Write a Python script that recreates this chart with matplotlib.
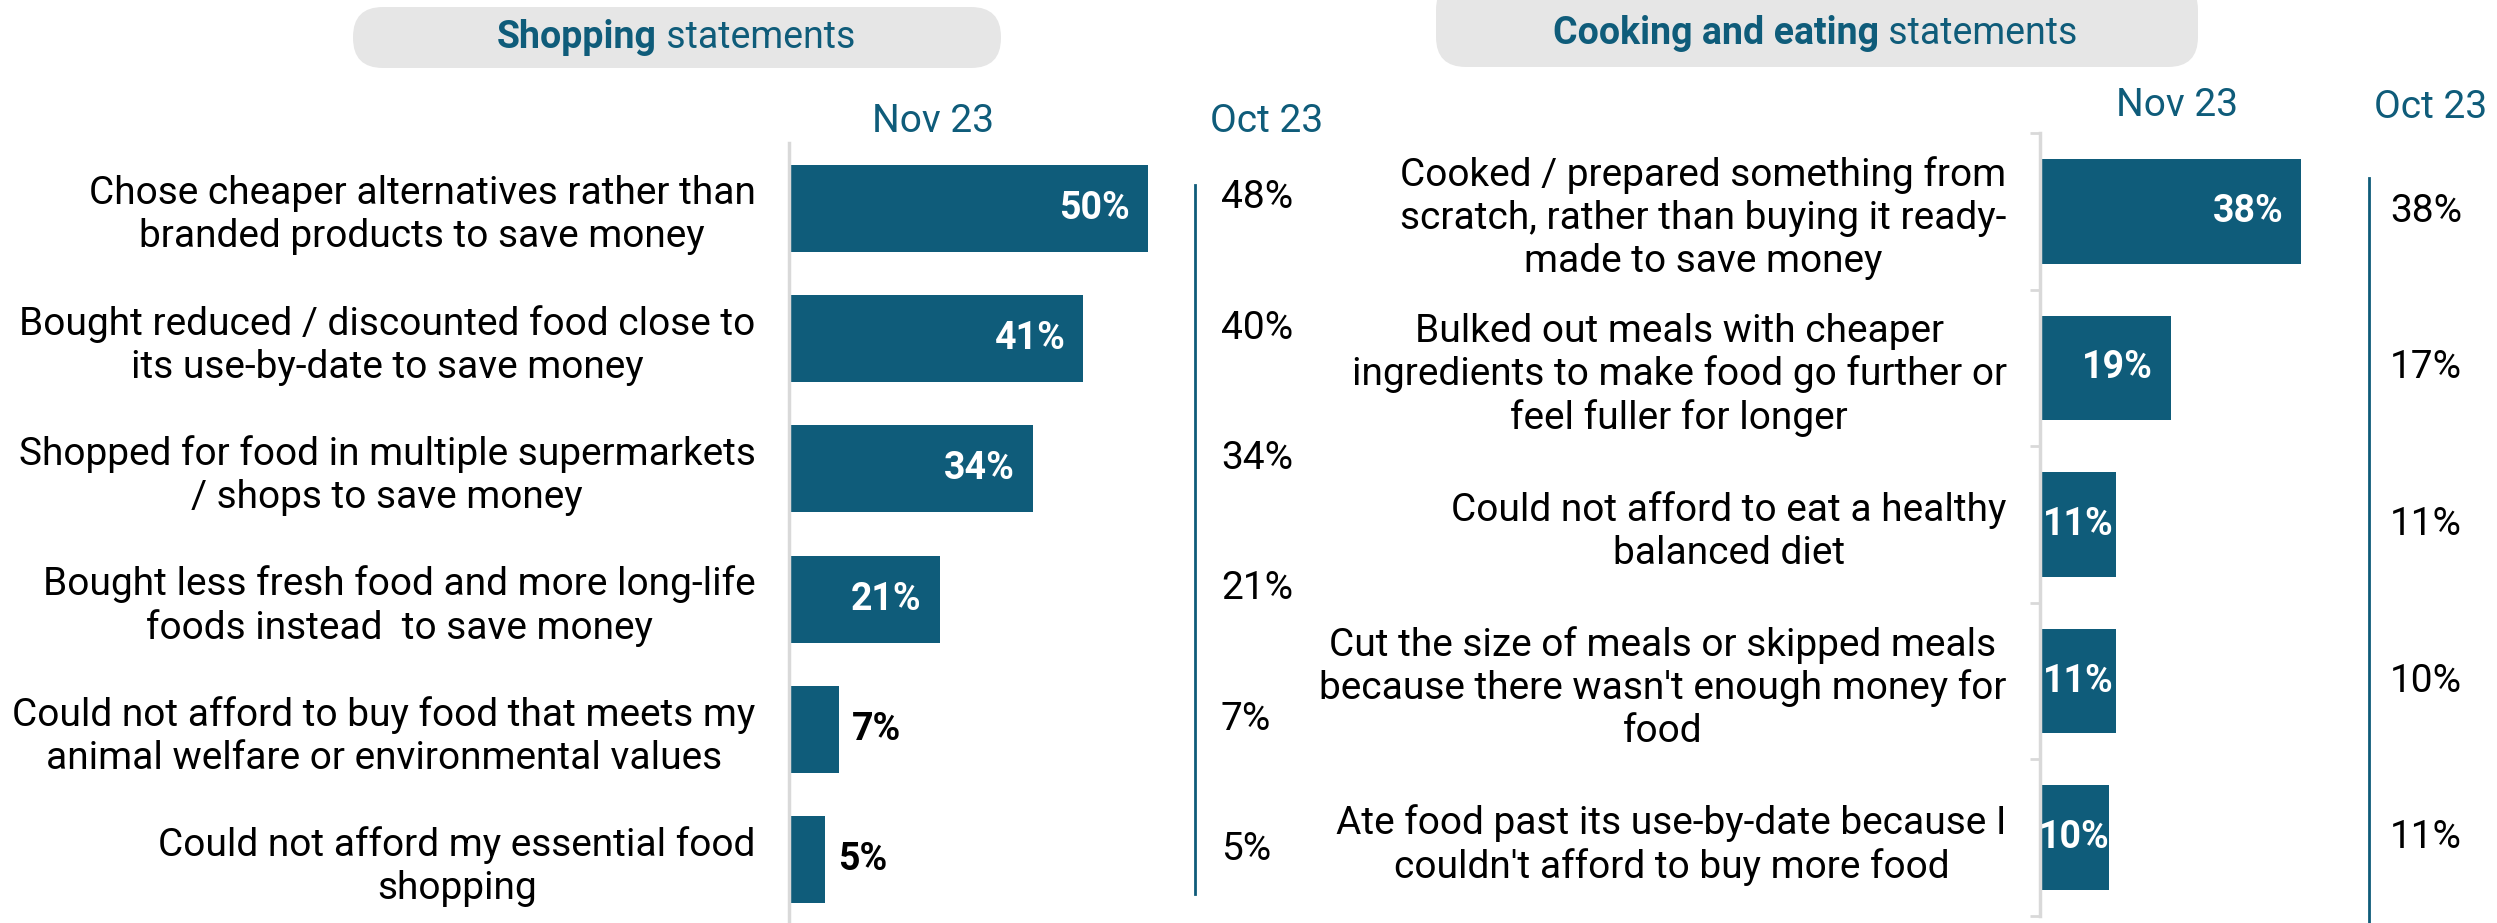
import matplotlib
matplotlib.use("Agg")
import matplotlib.pyplot as plt
from matplotlib.patches import FancyBboxPatch
import numpy as np

plt.rcParams['font.family'] = ['Roboto', 'DejaVu Sans']

TEAL = '#0F5C7A'
GREY = '#E6E6E6'
AXIS = '#D9D9D9'

# shopping statements
shop_labels = [
    "Chose cheaper alternatives rather than\nbranded products to save money",
    "Bought reduced / discounted food close to\nits use-by-date to save money",
    "Shopped for food in multiple supermarkets\n/ shops to save money",
    "Bought less fresh food and more long-life\nfoods instead  to save money",
    "Could not afford to buy food that meets my\nanimal welfare or environmental values",
    "Could not afford my essential food\nshopping",
]
shop_nov = [50, 41, 34, 21, 7, 5]
shop_oct = [48, 40, 34, 21, 7, 5]

# cooking and eating statements
cook_labels = [
    "Cooked / prepared something from\nscratch, rather than buying it ready-\nmade to save money",
    "Bulked out meals with cheaper\ningredients to make food go further or\nfeel fuller for longer",
    "Could not afford to eat a healthy\nbalanced diet",
    "Cut the size of meals or skipped meals\nbecause there wasn't enough money for\nfood",
    "Ate food past its use-by-date because I\ncouldn't afford to buy more food",
]
cook_nov = [38, 19, 11, 11, 10]
cook_oct = [38, 17, 11, 10, 11]

W, H = 2497, 923
fig = plt.figure(figsize=(W / 100, H / 100), dpi=100)


def px_axes(x0, x1, ytop, ybot):
    return fig.add_axes([x0 / W, 1 - ybot / H, (x1 - x0) / W, (ybot - ytop) / H])


def draw_panel(ax, labels, nov, octv, px_per_pct, inside_min, center_small,
               oct_line_x, oct_text_x, oct_y0, oct_y1, oct_dy, ticks):
    n = len(labels)
    y = np.arange(n)
    width_px = ax.get_position().width * W
    ax.set_xlim(0, width_px / px_per_pct)
    ax.set_ylim(n - 0.5, -0.5)
    ax.barh(y, nov, height=0.667, color=TEAL, zorder=2)
    pad = 18 / px_per_pct
    for i, v in enumerate(nov):
        if v < inside_min:
            ax.text(v + 13 / px_per_pct, i, f"{v}%", ha='left', va='center',
                    fontsize=27, fontweight='bold', color='black')
        elif v < center_small:
            ax.text(v / 2, i, f"{v}%", ha='center', va='center',
                    fontsize=27, fontweight='bold', color='white', zorder=3)
        else:
            ax.text(v - pad, i, f"{v}%", ha='right', va='center',
                    fontsize=27, fontweight='bold', color='white', zorder=3)
    tr = ax.get_yaxis_transform()
    ax.plot([oct_line_x, oct_line_x], [oct_y0, oct_y1], color=TEAL, lw=2,
            transform=tr, clip_on=False)
    for i, v in enumerate(octv):
        ax.text(oct_text_x, i + oct_dy, f"{v}%", ha='left', va='center',
                fontsize=28, color='black', transform=tr, clip_on=False)
    ax.set_yticks(y, labels)
    for lbl in ax.get_yticklabels():
        lbl.set_multialignment('center')
        lbl.set_fontsize(28)
    ax.tick_params(axis='y', length=0, pad=24)
    if ticks:
        ax.set_yticks(np.arange(-0.5, n + 0.5, 1), minor=True)
        ax.tick_params(axis='y', which='minor', length=7, width=2, color=AXIS)
    ax.set_xticks([])
    for s in ['top', 'right', 'bottom']:
        ax.spines[s].set_visible(False)
    ax.spines['left'].set_color(AXIS)
    ax.spines['left'].set_linewidth(2.5)
    ax.patch.set_alpha(0)


ax1 = px_axes(789, 1330, 143, 925)
draw_panel(ax1, shop_labels, shop_nov, shop_oct, 7.18, 10, 0,
           (1195 - 789) / 541, (1221 - 789) / 541, -0.18, 5.26, -0.08, False)

ax2 = px_axes(2040, 2497, 133, 916)
draw_panel(ax2, cook_labels, cook_nov, cook_oct, 6.88, 0, 15,
           (2369 - 2040) / 457, (2390 - 2040) / 457, -0.21, 4.6, 0.0, True)

# header boxes
for x0, x1, y0, y1 in [(353, 1001, 7, 68), (1436, 2198, -20, 67)]:
    box = FancyBboxPatch((x0 / W, 1 - y1 / H), (x1 - x0) / W, (y1 - y0) / H,
                         boxstyle="round,pad=0,rounding_size=0.012",
                         transform=fig.transFigure, facecolor=GREY,
                         edgecolor='none', mutation_aspect=W / H, zorder=0)
    fig.patches.append(box)


def header(x, y, bold, rest):
    t = fig.text(x / W, 1 - y / H, bold, ha='left', va='center', fontsize=27,
                 fontweight='bold', color=TEAL)
    fig.canvas.draw()
    ext = t.get_window_extent()
    fig.text(ext.x1 / W, 1 - y / H, rest, ha='left', va='center', fontsize=27,
             color=TEAL)


header(497, 38, "Shopping", " statements")
header(1553, 33, "Cooking and eating", " statements")

# column headers
for x, y, s in [(933, 122, "Nov 23"), (1267, 122, "Oct 23"),
                (2177, 105, "Nov 23"), (2431, 108, "Oct 23")]:
    fig.text(x / W, 1 - y / H, s, ha='center', va='center', fontsize=28,
             color=TEAL)

fig.savefig("out.png", dpi=100)
